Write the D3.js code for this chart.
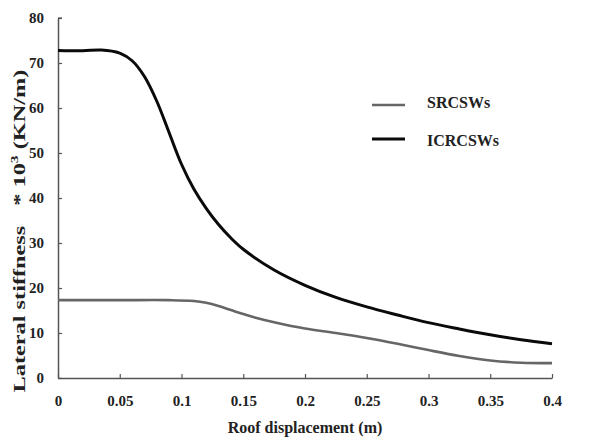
<!DOCTYPE html>
<html>
<head>
<meta charset="utf-8">
<script src="https://cdn.jsdelivr.net/npm/d3@7"></script>
<style>
  html, body { margin: 0; padding: 0; background: #fff; }
  svg { display: block; }
  text { font-family: "Liberation Serif", "Times New Roman", serif; font-weight: bold; fill: #222; }
</style>
</head>
<body>
<svg id="chart" width="596" height="437"></svg>
<script>
// Roof displacement (m) sample positions for the ICRCSWs curve
const icrDisp = [0, 0.02, 0.035, 0.05, 0.06, 0.07, 0.08, 0.09, 0.1, 0.11, 0.12, 0.13, 0.14, 0.15, 0.175, 0.2, 0.225, 0.25, 0.275, 0.3, 0.325, 0.35, 0.375, 0.4];
// ICRCSWs lateral stiffness (x10^3 KN/m)
const icrStiff = [72.8, 72.7, 72.9, 72.2, 70.5, 67.0, 61.5, 54.5, 47.5, 42.0, 37.7, 34.1, 31.1, 28.6, 24.0, 20.6, 17.9, 15.8, 14.0, 12.3, 10.9, 9.6, 8.5, 7.6];

// Roof displacement (m) sample positions for the SRCSWs curve
const srDisp = [0, 0.05, 0.09, 0.11, 0.12, 0.13, 0.14, 0.15, 0.16, 0.175, 0.2, 0.225, 0.25, 0.275, 0.3, 0.325, 0.35, 0.375, 0.4];
// SRCSWs lateral stiffness (x10^3 KN/m)
const srStiff = [17.3, 17.3, 17.3, 17.1, 16.7, 16.0, 15.1, 14.2, 13.4, 12.4, 11.0, 10.0, 8.9, 7.6, 6.2, 4.9, 3.9, 3.4, 3.3];

const xTicks = [0, 0.05, 0.1, 0.15, 0.2, 0.25, 0.3, 0.35, 0.4];
const xTickLabels = ["0", "0.05", "0.1", "0.15", "0.2", "0.25", "0.3", "0.35", "0.4"];
const yTicks = [0, 10, 20, 30, 40, 50, 60, 70, 80];

const seriesNames = ["SRCSWs", "ICRCSWs"];
const seriesColors = ["#666666", "#0a0a0a"];

const svg = d3.select("#chart");
const x = d3.scaleLinear().domain([0, 0.4]).range([58, 552]);
const y = d3.scaleLinear().domain([0, 80]).range([378, 18]);

// axes with inward ticks
const xAxis = d3.axisBottom(x).tickValues(xTicks).tickSize(-4).tickSizeOuter(0)
  .tickFormat((d, i) => xTickLabels[i]).tickPadding(17);
const yAxis = d3.axisLeft(y).tickValues(yTicks).tickSize(-4).tickSizeOuter(0).tickPadding(14);

const gx = svg.append("g").attr("transform", `translate(0,${y(0)})`).call(xAxis);
const gy = svg.append("g").attr("transform", `translate(${x(0)},0)`).call(yAxis);
[gx, gy].forEach(g => {
  g.select(".domain").attr("stroke", "#555").attr("stroke-width", 1.5);
  g.selectAll(".tick line").attr("stroke", "#555").attr("stroke-width", 1.2);
  g.selectAll(".tick text").style("font-size", "15px").attr("fill", "#222")
    .style("font-family", '"Liberation Serif", serif').style("font-weight", "bold");
});
// top end tick of the y axis
svg.append("line").attr("x1", x(0)).attr("x2", x(0) + 4).attr("y1", y(80)).attr("y2", y(80))
  .attr("stroke", "#555").attr("stroke-width", 1.2);

const line = d3.line().x(d => x(d[0])).y(d => y(d[1])).curve(d3.curveCatmullRom.alpha(0.5));

svg.append("path").datum(srDisp.map((d, i) => [d, srStiff[i]]))
  .attr("d", line).attr("fill", "none").attr("stroke", seriesColors[0]).attr("stroke-width", 2.6);
svg.append("path").datum(icrDisp.map((d, i) => [d, icrStiff[i]]))
  .attr("d", line).attr("fill", "none").attr("stroke", seriesColors[1]).attr("stroke-width", 3);

// legend
const legend = svg.append("g");
seriesNames.forEach((name, i) => {
  const ly = 105 + i * 34;
  legend.append("line").attr("x1", 372).attr("x2", 405).attr("y1", ly).attr("y2", ly)
    .attr("stroke", seriesColors[i]).attr("stroke-width", i === 0 ? 2.6 : 3);
  legend.append("text").attr("x", 427).attr("y", 108 + i * 38).style("font-size", "16px").text(name);
});

// axis titles
svg.append("text").attr("x", 305).attr("y", 433).attr("text-anchor", "middle")
  .style("font-size", "16px").text("Roof displacement (m)");

// y title: wide-set lettering, stretched along its baseline to span the axis
const ytg = svg.append("g");
const yt = ytg.append("text").attr("text-anchor", "middle").style("font-size", "17px");
yt.append("tspan").text("Lateral stiffness");
yt.append("tspan").attr("dx", 14).text("* 10");
yt.append("tspan").attr("dy", -7).style("font-size", "11px").text("3");
yt.append("tspan").attr("dy", 7).text(" (KN/m)");
const tw = yt.node().getBBox().width;
ytg.attr("transform", `translate(25,231) rotate(-90) scale(${323 / tw},1)`);
</script>
</body>
</html>
